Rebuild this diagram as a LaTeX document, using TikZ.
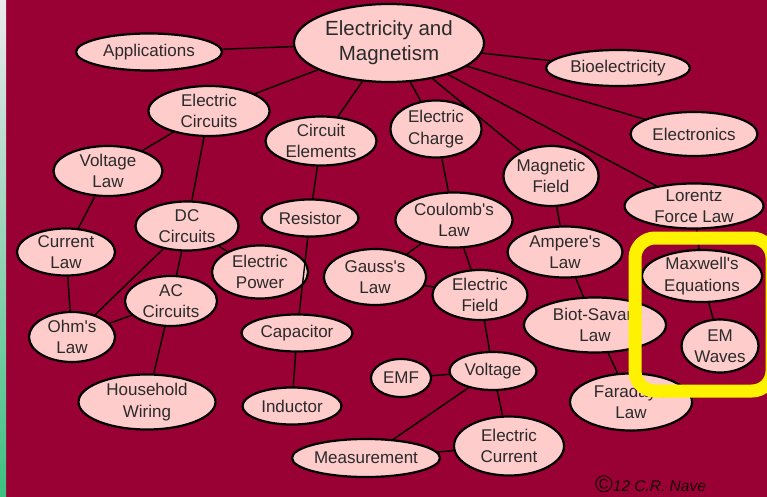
\documentclass[tikz,border=0pt]{standalone}
\usepackage{fontspec}
\setmainfont{Liberation Sans}
\usetikzlibrary{shapes.geometric}
\definecolor{bgred}{HTML}{990033}
\definecolor{nodepink}{HTML}{FFCCCC}
\definecolor{txtgray}{HTML}{2A2A2A}
\definecolor{stripTop}{HTML}{ECE8EE}
\definecolor{stripBot}{HTML}{3CC080}
\begin{document}
\begin{tikzpicture}[x=1pt,y=-1pt,
  concept/.style={ellipse, draw=black, line width=2.2pt, fill=nodepink, text=txtgray,
    inner xsep=-30pt, inner ysep=-16pt, align=center,
    font=\fontsize{17}{21.5}\selectfont},
  bigconcept/.style={concept, font=\fontsize{20.5}{25}\selectfont},
  link/.style={draw=black, line width=1.4pt},
  highlight/.style={draw=yellow, line width=13pt, rounded corners=20pt}]
\useasboundingbox (0,0) rectangle (767,497);
\clip (0,0) rectangle (767,497);
\fill[bgred] (0,0) rectangle (767,497);
\shade[top color=stripTop, bottom color=stripBot] (0,0) rectangle (6,497);

% nodes
\node[bigconcept, minimum width=190pt, minimum height=78pt] (em) at (389,43) {Electricity and\\Magnetism};
\node[concept, minimum width=146pt, minimum height=37pt] (app) at (149,52) {Applications};
\node[concept, minimum width=121pt, minimum height=50pt] (ecirc) at (209,111) {Electric\\Circuits};
\node[concept, minimum width=109pt, minimum height=50pt] (vlaw) at (108,171) {Voltage\\Law};
\node[concept, minimum width=111pt, minimum height=49pt] (celem) at (321,141) {Circuit\\Elements};
\node[concept, minimum width=91pt, minimum height=57pt] (echarge) at (436,129) {Electric\\Charge};
\node[concept, minimum width=144pt, minimum height=36pt] (bio) at (618,68) {Bioelectricity};
\node[concept, minimum width=127pt, minimum height=44pt] (elec) at (694,134) {Electronics};
\node[concept, minimum width=95pt, minimum height=60pt] (mag) at (551,176) {Magnetic\\Field};
\node[concept, minimum width=139pt, minimum height=45pt] (lorentz) at (694,206) {Lorentz\\Force Law};
\node[concept, minimum width=98pt, minimum height=47pt] (curlaw) at (66,252) {Current\\Law};
\node[concept, minimum width=103pt, minimum height=49pt] (dc) at (187,226) {DC\\Circuits};
\node[concept, minimum width=96pt, minimum height=53pt] (epower) at (260,272) {Electric\\Power};
\node[concept, minimum width=92pt, minimum height=50pt] (ac) at (171,301) {AC\\Circuits};
\node[concept, minimum width=86pt, minimum height=50pt] (ohm) at (72,337) {Ohm\textquotesingle s\\Law};
\node[concept, minimum width=137pt, minimum height=55pt] (house) at (147,402) {Household\\Wiring};
\node[concept, minimum width=97pt, minimum height=37pt] (res) at (310,218) {Resistor};
\node[concept, minimum width=111pt, minimum height=37pt] (cap) at (297,333) {Capacitor};
\node[concept, minimum width=99pt, minimum height=37pt] (ind) at (292,406) {Inductor};
\node[concept, minimum width=117pt, minimum height=55pt] (coul) at (454,220) {Coulomb\textquotesingle s\\Law};
\node[concept, minimum width=102pt, minimum height=56pt] (gauss) at (375,277) {Gauss\textquotesingle s\\Law};
\node[concept, minimum width=95pt, minimum height=50pt] (efield) at (480,295) {Electric\\Field};
\node[concept, minimum width=60pt, minimum height=38pt] (emf) at (401,378) {EMF};
\node[concept, minimum width=87pt, minimum height=38pt] (volt) at (493,371) {Voltage};
\node[concept, minimum width=148pt, minimum height=38pt] (meas) at (366,458) {Measurement};
\node[concept, minimum width=110pt, minimum height=59pt] (ecur) at (509,446) {Electric\\Current};
\node[concept, minimum width=115pt, minimum height=51pt] (amp) at (565,252) {Ampere\textquotesingle s\\Law};
\node[concept, minimum width=142pt, minimum height=55pt] (biot) at (595,325) {Biot-Savart\\Law};
\node[concept, minimum width=122pt, minimum height=57pt] (far) at (631,402) {Faraday\textquotesingle s\\Law};
\node[concept, minimum width=120pt, minimum height=52pt] (maxw) at (702,276) {Maxwell\textquotesingle s\\Equations};
\node[concept, minimum width=77pt, minimum height=53pt] (emw) at (720,346) {EM\\Waves};

% connectors
\draw[link] (em) -- (app);
\draw[link] (em) -- (ecirc);
\draw[link] (em) -- (celem);
\draw[link] (em) -- (echarge);
\draw[link] (em) -- (mag);
\draw[link] (em) -- (bio);
\draw[link] (em) -- (elec);
\draw[link] (em) -- (lorentz);
\draw[link] (lorentz) -- (maxw);
\draw[link] (maxw) -- (emw);
\draw[link] (ecirc) -- (vlaw);
\draw[link] (ecirc) -- (dc);
\draw[link] (vlaw) -- (curlaw);
\draw[link] (curlaw) -- (ohm);
\draw[link] (dc) -- (ohm);
\draw[link] (dc) -- (ac);
\draw[link] (dc) -- (epower);
\draw[link] (ac) -- (ohm);
\draw[link] (ac) -- (house);
\draw[link] (celem) -- (res);
\draw[link] (res) -- (cap);
\draw[link] (cap) -- (ind);
\draw[link] (echarge) -- (coul);
\draw[link] (coul) -- (gauss);
\draw[link] (coul) -- (efield);
\draw[link] (gauss) -- (efield);
\draw[link] (efield) -- (volt);
\draw[link] (volt) -- (emf);
\draw[link] (volt) -- (meas);
\draw[link] (volt) -- (ecur);
\draw[link] (meas) -- (ecur);
\draw[link] (mag) -- (amp);
\draw[link] (amp) -- (biot);
\draw[link] (biot) -- (far);

% highlight box
\draw[highlight] (635,238) rectangle (772,391);

% copyright
\node[text=black!85!bgred, font=\fontsize{15.5}{16}\selectfont\itshape, anchor=base west, inner sep=0pt] (copy) at (595,491)
  {\raisebox{-1.5pt}{\upshape\fontsize{24}{24}\selectfont\textcopyright}12 C.R. Nave};
\end{tikzpicture}
\end{document}
